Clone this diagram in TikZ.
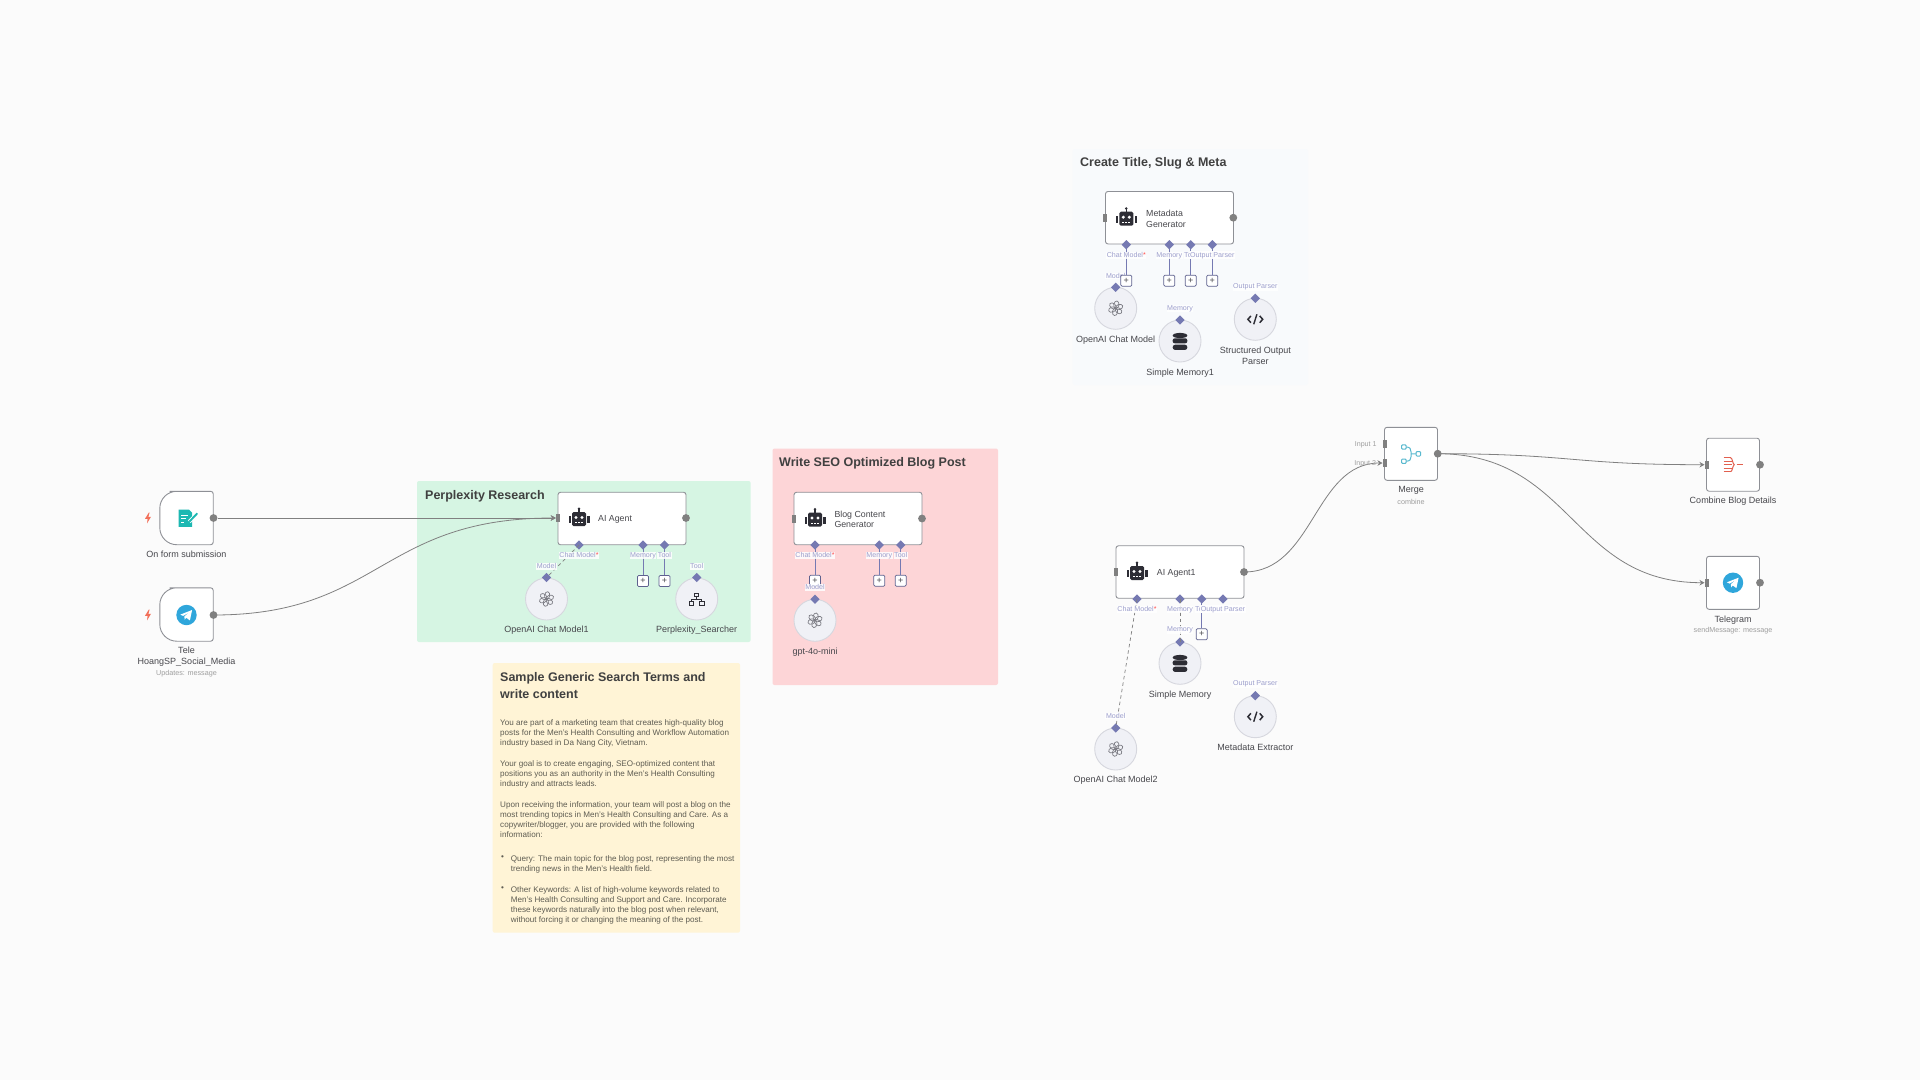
\documentclass[tikz,border=0pt]{standalone}
\usepackage{fontspec}
\setmainfont{Liberation Sans}
\usetikzlibrary{arrows.meta,shapes.geometric}
\definecolor{pagebg}{HTML}{FBFBFB}
\definecolor{boxline}{HTML}{8E9096}
\definecolor{wiregray}{HTML}{808080}
\definecolor{portblue}{HTML}{7579B2}
\definecolor{labelblue}{HTML}{9C9ECC}
\definecolor{toolfill}{HTML}{F0F1F6}
\definecolor{toolline}{HTML}{D6D7DE}
\definecolor{inkdark}{HTML}{2D2D35}
\definecolor{namegray}{HTML}{47474C}
\definecolor{noteink}{HTML}{5E5C52}
\definecolor{openaigray}{HTML}{7C7C84}
\definecolor{tgblue}{HTML}{2FA6DB}
\definecolor{formteal}{HTML}{1DB8B2}
\definecolor{mergeteal}{HTML}{59B9CF}
\definecolor{redicon}{HTML}{E2604F}
\definecolor{boltred}{HTML}{F2705A}
\definecolor{groupgreen}{HTML}{D6F5E3}
\definecolor{grouppink}{HTML}{FDD5D7}
\definecolor{groupyellow}{HTML}{FFF4D6}
\definecolor{groupblue}{HTML}{F8FAFC}
\tikzset{
  flowbox/.style={draw=boxline,fill=white,line width=.9pt,rounded corners=2.5pt,inner sep=0pt},
  trigline/.style={draw=boxline,fill=white,line width=.9pt},
  squarebox/.style={flowbox,minimum width=53pt,minimum height=53pt},
  agentbox/.style={flowbox,minimum width=128pt,minimum height=52.5pt},
  outdot/.style={circle,fill=wiregray,inner sep=0pt,minimum size=7.8pt},
  inport/.style={rectangle,fill=wiregray,inner sep=0pt,minimum width=4pt,minimum height=8pt},
  portdia/.style={diamond,aspect=1,fill=portblue,inner sep=0pt,minimum size=9.5pt},
  toolcirc/.style={circle,draw=toolline,fill=toolfill,line width=.9pt,inner sep=0pt,minimum size=42pt},
  plusbox/.style={draw=portblue!80!black,fill=white,line width=.7pt,rounded corners=1.2pt,inner sep=0pt,minimum size=11pt,font=\fontsize{9}{9}\selectfont,text=namegray},
  nodename/.style={font=\fontsize{9}{11}\selectfont,text=namegray,align=center,inner sep=0pt,yshift=-1pt},
  boxtext/.style={font=\fontsize{8.8}{10.4}\selectfont,text=namegray,align=left,anchor=west,inner sep=0pt,yshift=-1.2pt},
  nodesub/.style={font=\fontsize{7.2}{8}\selectfont,text=black!38,inner sep=0pt,yshift=-.6pt},
  portlabel/.style={font=\fontsize{7.1}{8}\selectfont,text=labelblue,fill=white,fill opacity=.85,text opacity=1,inner sep=.6pt,yshift=-.6pt},
  inlabel/.style={font=\fontsize{7.1}{8}\selectfont,text=black!38,inner sep=0pt,yshift=-.6pt},
  grouptitle/.style={font=\fontsize{12.5}{17.4}\selectfont\bfseries,text=black!75,anchor=west,align=left,inner sep=0pt,yshift=-1.4pt},
  notetext/.style={font=\fontsize{8.1}{10}\selectfont,text=noteink,anchor=north west,align=left,inner sep=0pt,yshift=-1.6pt},
  wire/.style={draw=wiregray,line width=.8pt,-{Stealth[length=5pt,width=5.5pt]}},
  subwire/.style={draw=portblue,line width=.8pt},
  subdash/.style={draw=wiregray,line width=.7pt,dash pattern=on 3.5pt off 3pt},
  robot/.pic={
    \fill[inkdark,rounded corners=1.5pt] (-7,-6) rectangle (7,8);
    \fill[inkdark] (-.8,-9) rectangle (.8,-6);
    \fill[inkdark] (0,-9.2) circle (1.4pt);
    \fill[inkdark] (-10.5,-2) rectangle (-8.3,5);
    \fill[inkdark] (8.3,-2) rectangle (10.5,5);
    \fill[white] (-3,-.5) circle (1.7pt);
    \fill[white] (3,-.5) circle (1.7pt);
    \fill[white] (-4,4) rectangle (-2,5.3);
    \fill[white] (-1,4) rectangle (1,5.3);
    \fill[white] (2,4) rectangle (4,5.3);
  },
  openai/.pic={
    \foreach \ang in {20,80,140,200,260,320}
      \draw[openaigray,line width=.7pt,rotate=\ang] (3.6,0) ellipse (3.8pt and 2.6pt);
  },
  database/.pic={
    \fill[inkdark] (0,-6) ellipse (7.3pt and 2.6pt);
    \fill[inkdark,rounded corners=2pt] (-7.3,-3.2) rectangle (7.3,1.8);
    \fill[inkdark,rounded corners=2.4pt] (-7.3,3.2) rectangle (7.3,8.4);
  },
  codetag/.pic={
    \draw[inkdark,line width=1.5pt] (-4.4,-3.4) -- (-7.4,0) -- (-4.4,3.4);
    \draw[inkdark,line width=1.5pt] (4.4,-3.4) -- (7.4,0) -- (4.4,3.4);
    \draw[inkdark,line width=1.4pt] (1.6,-5) -- (-1.6,5);
  },
  network/.pic={
    \draw[inkdark,line width=.9pt] (-2.2,-6) rectangle (2.2,-2.2);
    \draw[inkdark,line width=.9pt] (-7.4,2.2) rectangle (-3,6);
    \draw[inkdark,line width=.9pt] (3,2.2) rectangle (7.4,6);
    \draw[inkdark,line width=.9pt] (0,-2.2) -- (0,0) (-5.2,2.2) -- (-5.2,0) -- (5.2,0) -- (5.2,2.2);
  },
  telegram/.pic={
    \fill[tgblue] (0,0) circle (10.2pt);
    \fill[white] (-6.2,-.4) -- (5.6,-5) -- (3.4,5.4) -- (-.2,2.8) -- (-1.8,4.6) -- (-2.2,1.4) -- (3.4,-3) -- (-3.4,.9) -- cycle;
  },
  formdoc/.pic={
    \fill[formteal] (-8,-8.5) -- (2.5,-8.5) -- (5.5,-5.5) -- (5.5,8.8) -- (-8,8.8) -- cycle;
    \draw[white,line width=1pt] (-5.5,-3) -- (1.5,-3) (-5.5,.5) -- (-.5,.5) (-5.5,4) -- (-2.5,4);
    \draw[white,line width=3.6pt] (2.8,3.7) -- (10.8,-4.7);
    \draw[formteal,line width=1.9pt] (2.8,3.7) -- (10.8,-4.7);
  },
  mergeicon/.pic={
    \draw[mergeteal,line width=1pt,rounded corners=1pt] (-9.5,-9) rectangle (-4.8,-4.6);
    \draw[mergeteal,line width=1pt,rounded corners=1pt] (-9.5,5.2) rectangle (-4.8,9.6);
    \draw[mergeteal,line width=1pt,rounded corners=1pt] (5,-2.2) rectangle (9.7,2.2);
    \draw[mergeteal,line width=1pt] (-4.8,-6.8) .. controls (-1,-6.8) and (0,-5) .. (0,-2) -- (0,3) .. controls (0,5.4) and (-1,7.4) .. (-4.8,7.4) (0,0) -- (5,0);
  },
  aggregate/.pic={
    \draw[redicon,line width=1pt] (-9.4,-7) -- (-2.5,-7) (-9.4,-3.6) -- (-1,-3.6) (-9.4,0) -- (-1,0) (-9.4,3.6) -- (-1,3.6) (-9.4,7) -- (-2.5,7);
    \draw[redicon,line width=1pt] (-2.5,-7) .. controls (-.5,-7) and (-.5,-1) .. (1.2,0) .. controls (-.5,1) and (-.5,7) .. (-2.5,7);
    \draw[redicon,line width=1.2pt] (3.6,0) -- (10,0);
  },
  boltmark/.pic={
    \fill[boltred] (.8,-5.4) -- (-3,.8) -- (-.4,.8) -- (-1,5.4) -- (3,-1.2) -- (.4,-1.2) -- (1.6,-5.4) -- cycle;
  }
}
\newcommand{\trigshape}[1]{
  \draw[trigline,rounded corners=2.5pt] (#1.north) -- (#1.north east) -- (#1.south east) -- (#1.south) [rounded corners=17pt] -- (#1.south west) -- (#1.north west) -- cycle;
}
\begin{document}
\begin{tikzpicture}[x=1pt,y=-1pt]
\useasboundingbox (0,0) rectangle (1920,1080);
\fill[pagebg] (0,0) rectangle (1920,1080);

% sticky notes
\fill[groupgreen,rounded corners=2pt] (417,481) rectangle (750.6,642);
\fill[grouppink,rounded corners=2pt] (772.5,448.5) rectangle (998,685);
\fill[groupyellow,rounded corners=2pt] (492.7,663) rectangle (740,932.7);
\fill[groupblue,rounded corners=2pt] (1072.7,149) rectangle (1308,385);

\node[grouptitle] (perplexTitle) at (425,495) {Perplexity Research};
\node[grouptitle] (seoTitle) at (779,461.7) {Write SEO Optimized Blog Post};
\node[grouptitle] (metaTitle) at (1080,161.7) {Create Title, Slug \& Meta};
\node[grouptitle] (noteTitle) at (500,684.2) {Sample Generic Search Terms and\\write content};

\node[notetext] (noteParaA) at (500,718) {You are part of a marketing team that creates high-quality blog\\posts for the Men's Health Consulting and Workflow Automation\\industry based in Da Nang City, Vietnam.};
\node[notetext] (noteParaB) at (500,759) {Your goal is to create engaging, SEO-optimized content that\\positions you as an authority in the Men's Health Consulting\\industry and attracts leads.};
\node[notetext] (noteParaC) at (500,799.4) {Upon receiving the information, your team will post a blog on the\\most trending topics in Men's Health Consulting and Care. As a\\copywriter/blogger, you are provided with the following\\information:};
\node[notetext] (noteDotA) at (501,854) {•};
\node[notetext] (noteItemA) at (510.7,854) {Query: The main topic for the blog post, representing the most\\trending news in the Men's Health field.};
\node[notetext] (noteDotB) at (501,885) {•};
\node[notetext] (noteItemB) at (510.7,885) {Other Keywords: A list of high-volume keywords related to\\Men's Health Consulting and Support and Care. Incorporate\\these keywords naturally into the blog post when relevant,\\without forcing it or changing the meaning of the post.};

% triggers
\node[minimum width=53pt,minimum height=53pt,inner sep=0pt] (formBox) at (186.5,518) {};
\trigshape{formBox}
\node[minimum width=53pt,minimum height=53pt,inner sep=0pt] (teleBox) at (186.5,614.5) {};
\trigshape{teleBox}
\pic at (186.5,518) {formdoc};
\pic at (186.5,615) {telegram};
\pic at (148,518) {boltmark};
\pic at (148,615) {boltmark};
\node[outdot] (formOut) at (213.5,518) {};
\node[outdot] (teleOut) at (213.5,615) {};
\node[nodename] (formName) at (186.5,553.7) {On form submission};
\node[nodename] (teleName) at (186.5,655.7) {Tele\\HoangSP\_Social\_Media};
\node[nodesub] (teleSub) at (186.5,673) {Updates: message};

% perplexity agent
\node[agentbox] (agentBox) at (622,518.5) {};
\pic at (579,518) {robot};
\node[boxtext] (agentText) at (598,518) {AI Agent};
\node[inport] (agentIn) at (558,518) {};
\node[outdot] (agentOut) at (686,518) {};
\node[portdia] (agentChat) at (579,545) {};
\node[portdia] (agentMem) at (643,545) {};
\node[portdia] (agentTool) at (664.5,545) {};
\node[plusbox] (agentMemAdd) at (643,581) {+};
\node[plusbox] (agentToolAdd) at (664.5,581) {+};
\node[toolcirc] (modelOne) at (546.5,599) {};
\pic at (546.5,599) {openai};
\node[portdia] (modelOneTop) at (546.5,577.5) {};
\node[nodename] (modelOneName) at (546.5,629) {OpenAI Chat Model1};
\node[toolcirc] (searcher) at (696.7,599) {};
\pic at (696.7,599) {network};
\node[portdia] (searcherTop) at (696.7,577.5) {};
\node[nodename] (searcherName) at (696.7,629) {Perplexity\_Searcher};

% blog writer
\node[agentbox] (blogBox) at (858,518.5) {};
\pic at (815,518.5) {robot};
\node[boxtext] (blogText) at (834.3,518) {Blog Content\\Generator};
\node[inport] (blogIn) at (793.5,518.5) {};
\node[outdot] (blogOut) at (922,518.5) {};
\node[portdia] (blogChat) at (815,545) {};
\node[portdia] (blogMem) at (879.3,545) {};
\node[portdia] (blogTool) at (900.7,545) {};
\node[plusbox] (blogChatAdd) at (815,580.7) {+};
\node[plusbox] (blogMemAdd) at (879.3,580.7) {+};
\node[plusbox] (blogToolAdd) at (900.7,580.7) {+};
\node[toolcirc] (miniModel) at (815,620.3) {};
\pic at (815,620.3) {openai};
\node[portdia] (miniModelTop) at (815,599.3) {};
\node[nodename] (miniModelName) at (815,651) {gpt-4o-mini};

% metadata generator
\node[agentbox] (metaBox) at (1169.5,217.7) {};
\pic at (1126.3,217.7) {robot};
\node[boxtext] (metaText) at (1146,217.7) {Metadata\\Generator};
\node[inport] (metaIn) at (1105.3,217.7) {};
\node[outdot] (metaOut) at (1233.3,217.7) {};
\node[portdia] (metaChat) at (1126.3,244.7) {};
\node[portdia] (metaMem) at (1169.3,244.7) {};
\node[portdia] (metaTool) at (1190.7,244.7) {};
\node[portdia] (metaParser) at (1212.3,244.7) {};
\node[portlabel] (metaModelLabel) at (1115.7,275.3) {Model};
\node[plusbox] (metaChatAdd) at (1126.3,280.7) {+};
\node[plusbox] (metaMemAdd) at (1169.3,280.7) {+};
\node[plusbox] (metaToolAdd) at (1190.7,280.7) {+};
\node[plusbox] (metaParserAdd) at (1212.3,280.7) {+};
\node[toolcirc] (metaModel) at (1115.7,308.3) {};
\pic at (1115.7,308.3) {openai};
\node[portdia] (metaModelTop) at (1115.7,287.3) {};
\node[nodename] (metaModelName) at (1115.7,338.7) {OpenAI Chat Model};
\node[toolcirc] (metaMemory) at (1180,341) {};
\pic at (1180,341.5) {database};
\node[portdia] (metaMemoryTop) at (1180,320) {};
\node[nodename] (metaMemoryName) at (1180,371.7) {Simple Memory1};
\node[toolcirc] (metaOutput) at (1255.3,319.3) {};
\pic at (1255.3,319.3) {codetag};
\node[portdia] (metaOutputTop) at (1255.3,298.3) {};
\node[nodename] (metaOutputName) at (1255.3,355.2) {Structured Output\\Parser};

% second agent
\node[agentbox] (agentTwoBox) at (1180,572) {};
\pic at (1137,572) {robot};
\node[boxtext] (agentTwoText) at (1156.7,572) {AI Agent1};
\node[inport] (agentTwoIn) at (1115.8,572) {};
\node[outdot] (agentTwoOut) at (1244,572) {};
\node[portdia] (agentTwoChat) at (1137,599) {};
\node[portdia] (agentTwoMem) at (1180,599) {};
\node[portdia] (agentTwoTool) at (1201.7,599) {};
\node[portdia] (agentTwoParser) at (1223,599) {};
\node[plusbox] (agentTwoToolAdd) at (1201.7,634.3) {+};
\node[toolcirc] (modelTwo) at (1115.7,749) {};
\pic at (1115.7,749) {openai};
\node[portdia] (modelTwoTop) at (1115.7,728) {};
\node[nodename] (modelTwoName) at (1115.7,779.3) {OpenAI Chat Model2};
\node[toolcirc] (memoryTwo) at (1180,663.3) {};
\pic at (1180,663.5) {database};
\node[portdia] (memoryTwoTop) at (1180,642) {};
\node[nodename] (memoryTwoName) at (1180,693.7) {Simple Memory};
\node[toolcirc] (extractor) at (1255.3,716.7) {};
\pic at (1255.3,716.7) {codetag};
\node[portdia] (extractorTop) at (1255.3,695.7) {};
\node[nodename] (extractorName) at (1255.3,746.7) {Metadata Extractor};

% merge and after
\node[squarebox] (mergeBox) at (1411,453.8) {};
\pic at (1411,453.8) {mergeicon};
\node[inport] (mergeInA) at (1384.7,444.3) {};
\node[inport] (mergeInB) at (1384.7,463) {};
\node[outdot] (mergeOut) at (1437.7,453.7) {};
\node[nodename] (mergeName) at (1411,489.7) {Merge};
\node[nodesub] (mergeSub) at (1411,501.7) {combine};
\node[squarebox] (combineBox) at (1733,464.7) {};
\pic at (1733,464.7) {aggregate};
\node[inport] (combineIn) at (1706.7,464.7) {};
\node[outdot] (combineOut) at (1760,464.7) {};
\node[nodename] (combineName) at (1733,499.7) {Combine Blog Details};
\node[squarebox] (sendBox) at (1733,582.8) {};
\pic at (1733,582.7) {telegram};
\node[inport] (sendIn) at (1706.7,582.7) {};
\node[outdot] (sendOut) at (1760,582.7) {};
\node[nodename] (sendName) at (1733,618.7) {Telegram};
\node[nodesub] (sendSub) at (1733,630.3) {sendMessage: message};

% main flow
\draw[wire] (formOut) -- (agentIn.west);
\draw[wire] (teleOut.center) .. controls (380,615) and (380,518) .. (agentIn.west);
\draw[wire] (agentTwoOut.center) .. controls (1314,572) and (1314,463) .. (mergeInB.west);
\draw[wire] (mergeOut.center) .. controls (1572,453.7) and (1572,464.7) .. (combineIn.west);
\draw[wire] (mergeOut.center) .. controls (1572,453.7) and (1572,582.7) .. (sendIn.west);

% sub connections
\draw[subdash] (agentChat.center) -- (modelOneTop.center);
\draw[subwire] (agentMem.center) -- (agentMemAdd.north);
\draw[subwire] (agentTool.center) -- (agentToolAdd.north);
\draw[subwire] (blogChat.center) -- (blogChatAdd.north);
\draw[subwire] (blogMem.center) -- (blogMemAdd.north);
\draw[subwire] (blogTool.center) -- (blogToolAdd.north);
\draw[subwire] (metaChat.center) -- (metaChatAdd.north);
\draw[subwire] (metaMem.center) -- (metaMemAdd.north);
\draw[subwire] (metaTool.center) -- (metaToolAdd.north);
\draw[subwire] (metaParser.center) -- (metaParserAdd.north);
\draw[subdash] (agentTwoChat.center) -- (modelTwoTop.center);
\draw[subdash] (agentTwoMem.center) -- (memoryTwoTop.center);
\draw[subwire] (agentTwoTool.center) -- (agentTwoToolAdd.north);

% port labels
\node[portlabel] (agentChatLabel) at (579,554.7) {Chat Model\textcolor{red!70}{*}};
\node[portlabel] (agentMemLabel) at (643,554.7) {Memory};
\node[portlabel] (agentToolLabel) at (664.5,554.7) {Tool};
\node[portlabel] (modelOneLabel) at (546.5,565.7) {Model};
\node[portlabel] (searcherLabel) at (696.7,565.7) {Tool};
\node[portlabel] (blogChatLabel) at (815,554.7) {Chat Model\textcolor{red!70}{*}};
\node[portlabel] (blogMemLabel) at (879.3,554.7) {Memory};
\node[portlabel] (blogToolLabel) at (900.7,554.7) {Tool};
\node[portlabel] (miniModelLabel) at (815,586.7) {Model};
\node[portlabel] (metaChatLabel) at (1126.3,254.7) {Chat Model\textcolor{red!70}{*}};
\node[portlabel] (metaMemLabel) at (1169.3,254.7) {Memory};
\node[portlabel] (metaToolLabel) at (1190.7,254.7) {Tool};
\node[portlabel,fill opacity=.95] (metaParserLabel) at (1212.3,254.7) {Output Parser};
\node[portlabel] (metaMemoryLabel) at (1180,307.7) {Memory};
\node[portlabel] (metaOutputLabel) at (1255.3,286.3) {Output Parser};
\node[portlabel] (agentTwoChatLabel) at (1137,608.7) {Chat Model\textcolor{red!70}{*}};
\node[portlabel] (agentTwoMemLabel) at (1180,608.7) {Memory};
\node[portlabel] (agentTwoToolLabel) at (1201.7,608.7) {Tool};
\node[portlabel,fill opacity=.95] (agentTwoParserLabel) at (1223,608.7) {Output Parser};
\node[portlabel] (modelTwoLabel) at (1115.7,715.3) {Model};
\node[portlabel] (memoryTwoLabel) at (1180,629.3) {Memory};
\node[portlabel] (extractorLabel) at (1255.3,683.3) {Output Parser};
\node[inlabel] (mergeInALabel) at (1365.7,444.3) {Input 1};
\node[inlabel] (mergeInBLabel) at (1365.2,462.8) {Input 2};

\end{tikzpicture}
\end{document}
